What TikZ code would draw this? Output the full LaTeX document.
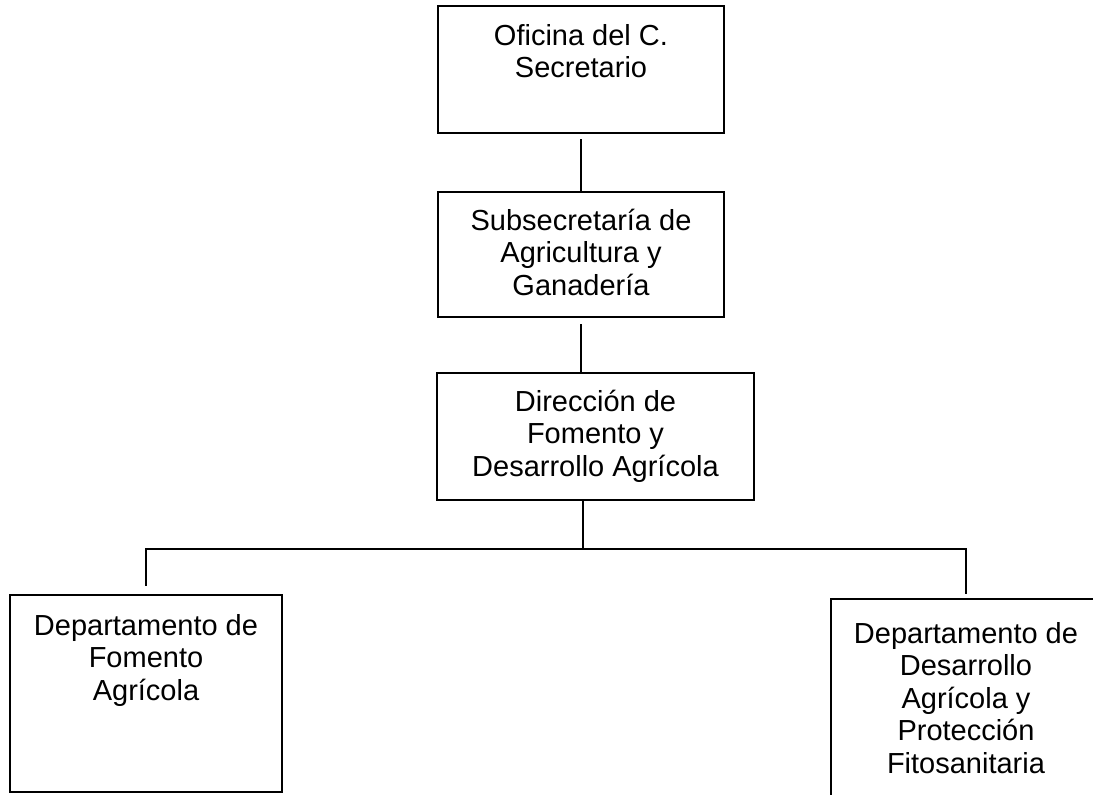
\documentclass[tikz,border=0pt]{standalone}
\usepackage{fontspec}
\setmainfont{Liberation Sans}
\usetikzlibrary{positioning}
\newcommand{\cajatexto}[4]{\parbox[c][#2][t]{#1}{\centering\rule{0pt}{#3}#4}}

\begin{document}
\begin{tikzpicture}[%
        x=1pt, y=-1pt,
        font=\fontsize{29}{32.5}\selectfont,
        caja/.style={draw, line width=2.5pt, inner sep=0pt},
        linea/.style={line width=2pt}
      ]
      \clip (0,0) rectangle (1093,795);
      \node [caja] (ofi) at (581,69.5) {\cajatexto{286pt}{127pt}{39pt}{Oficina del C.\\Secretario}};
      \node [caja] (sub) at (581,254.5) {\cajatexto{286pt}{125pt}{38pt}{Subsecretaría de\\Agricultura y\\Ganadería}};
      \node [caja] (dir) at (595.5,436.5) {\cajatexto{317pt}{127pt}{38pt}{Dirección de\\Fomento y\\Desarrollo Agrícola}};
      \node [caja] (izq) at (146,693.5) {\cajatexto{272pt}{197pt}{40pt}{Departamento de\\Fomento\\Agrícola}};
      \node [caja] (der) at (966,714) {\cajatexto{270pt}{230pt}{44pt}{Departamento de\\Desarrollo\\Agrícola y\\Protección\\Fitosanitaria}};
      \coordinate (bus) at (583,549);
      \draw [linea] ([yshift=-5pt]ofi.south) -- (sub.north);
      \draw [linea] ([yshift=-6pt]sub.south) -- (sub.south |- dir.north);
      \draw [linea] (bus |- dir.south) -- (bus);
      \draw [linea] ([yshift=8pt]izq.north) |- (der.north |- bus) -- ([yshift=4pt]der.north);
    \end{tikzpicture}
\end{document}
